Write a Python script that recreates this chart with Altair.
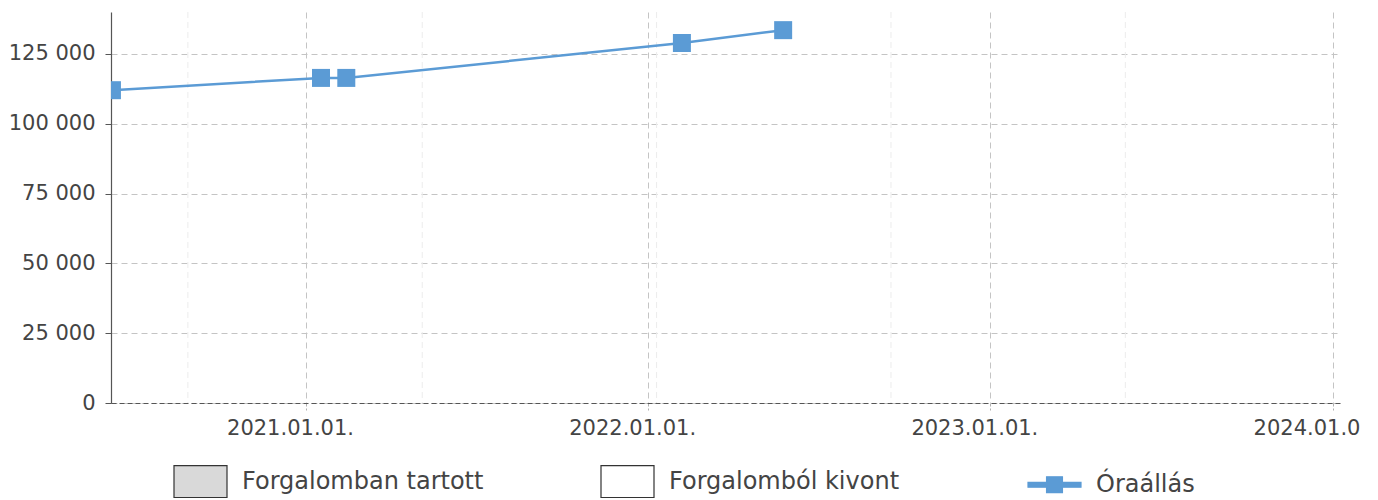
import altair as alt
import pandas as pd

# --- data ---
reading_dates = ["2020-06-08", "2021-01-17", "2021-02-13", "2022-02-06", "2022-05-25"]
readings = [112000, 116400, 116400, 128900, 133500]

year_ticks = [2021, 2022, 2023, 2024]
minor_grid_dates = ["2020-08-28", "2021-05-05", "2022-01-10", "2022-09-17", "2023-05-25"]
y_ticks = [0, 25000, 50000, 75000, 100000, 125000]

legend_labels = ["Forgalomban tartott", "Forgalomból kivont", "Óraállás"]
legend_fills = ["#d9d9d9", "#ffffff", "#5b9bd5"]
legend_strokes = ["#333333", "#333333", "#5b9bd5"]
box_path = "M-1,-0.6H1V0.6H-1Z"
line_marker_path = "M-1,-0.09H-0.3V-0.3H0.3V-0.09H1V0.09H0.3V0.3H-0.3V0.09H-1Z"
legend_shapes = [box_path, box_path, line_marker_path]

LINE_COLOR = "#5b9bd5"
FONT = "DejaVu Sans"
TEXT = "#444444"

df = pd.DataFrame({"date": [d + "T00:00:00" for d in reading_dates], "value": readings})
minor_df = pd.DataFrame({"date": [d + "T00:00:00" for d in minor_grid_dates]})
legend_df = pd.DataFrame({"label": legend_labels})

x_domain = [alt.DateTime(year=2020, month=6, date=7), alt.DateTime(year=2024, month=1, date=9)]
x_scale = alt.Scale(domain=x_domain)

x_axis = alt.Axis(
    values=[alt.DateTime(year=y, month=1, date=1) for y in year_ticks],
    format="%Y.%m.%d.",
    title=None,
    grid=True,
    gridColor="#c4c4c4",
    gridDash=[6, 4],
    gridWidth=1,
    domainColor="#555555",
    domainDash=[5, 3],
    domainWidth=1.2,
    tickColor="#b0b0b0",
    tickDash=[3, 2],
    tickSize=7,
    labelFontSize=21,
    labelFont=FONT,
    labelColor=TEXT,
    labelPadding=7,
    labelOffset=-16,
    labelFlush=False,
    labelOverlap=False,
)

y_axis = alt.Axis(
    values=y_ticks,
    labelExpr="replace(format(datum.value, ','), ',', ' ')",
    title=None,
    grid=True,
    gridColor="#c4c4c4",
    gridDash=[6, 4],
    gridWidth=1,
    domainColor="#555555",
    domainWidth=1.2,
    tickColor="#555555",
    tickSize=6,
    labelFontSize=21,
    labelFont=FONT,
    labelColor=TEXT,
    labelPadding=10,
)

minor = alt.Chart(minor_df).mark_rule(color="#ececec", strokeDash=[6, 4], strokeWidth=1).encode(
    x=alt.X("date:T", scale=x_scale, axis=x_axis)
)

line = alt.Chart(df).mark_line(color=LINE_COLOR, strokeWidth=2.5, clip=True).encode(
    x=alt.X("date:T", scale=x_scale, axis=x_axis),
    y=alt.Y("value:Q", scale=alt.Scale(domain=[0, 140000], nice=False), axis=y_axis),
)

points = alt.Chart(df).mark_point(
    shape="square", filled=True, color=LINE_COLOR, opacity=1, size=324, clip=True
).encode(
    x=alt.X("date:T", scale=x_scale, axis=x_axis),
    y=alt.Y("value:Q", axis=y_axis),
)

legend_props = dict(
    title=None,
    orient="none",
    legendX=62,
    legendY=442,
    direction="horizontal",
    gridAlign="all",
    columnPadding=114,
    symbolSize=2809,
    symbolStrokeWidth=1.2,
    symbolOpacity=1,
    labelOffset=14,
    labelFontSize=24,
    labelFont=FONT,
    labelColor=TEXT,
    labelLimit=500,
    padding=0,
)

legend_layer = alt.Chart(legend_df).mark_point(filled=True, opacity=1).encode(
    fill=alt.Fill("label:N", scale=alt.Scale(domain=legend_labels, range=legend_fills),
                  legend=alt.Legend(**legend_props)),
    stroke=alt.Stroke("label:N", scale=alt.Scale(domain=legend_labels, range=legend_strokes),
                      legend=alt.Legend(**legend_props)),
    shape=alt.Shape("label:N", scale=alt.Scale(domain=legend_labels, range=legend_shapes),
                    legend=alt.Legend(**legend_props)),
).transform_filter("false")

chart = alt.layer(minor, line, points, legend_layer).properties(
    width=1229,
    height=391,
    autosize=alt.AutoSizeParams(type="none"),
    padding={"left": 103, "top": 4, "right": 22, "bottom": 97},
).configure(font=FONT).configure_view(stroke=None)

chart.save("out.html", embed_options={"renderer": "svg", "actions": False})
